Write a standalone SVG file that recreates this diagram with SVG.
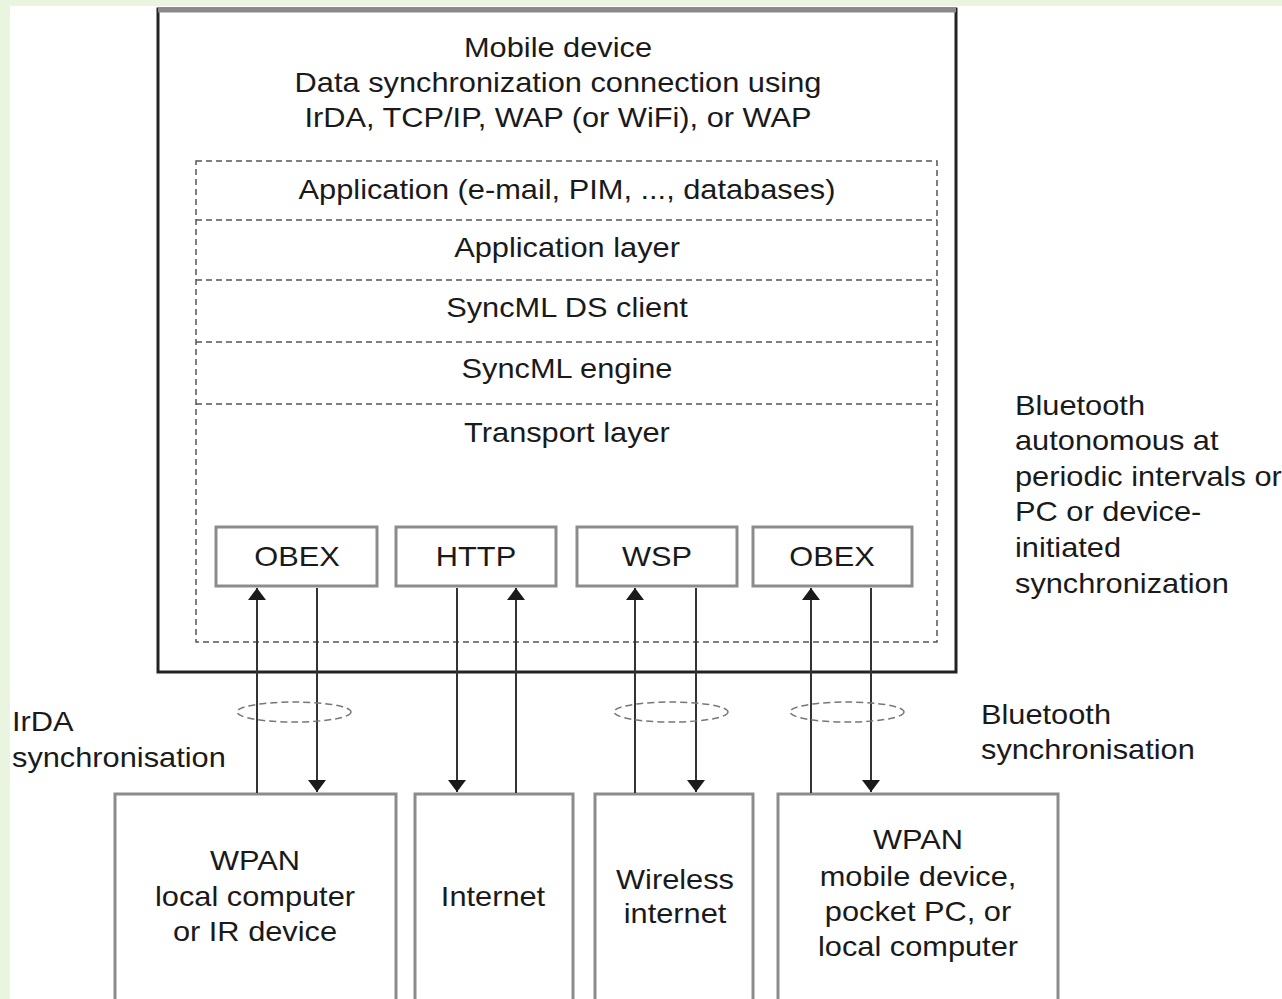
<svg xmlns="http://www.w3.org/2000/svg" width="1282" height="999" viewBox="0 0 1282 999">
  <defs>
    <style>
      text { font-family: "Liberation Sans", Arial, sans-serif; font-size: 27px; fill: #1a1a1a; }
      .mid { text-anchor: middle; }
      .outer { fill: #ffffff; stroke: #222222; stroke-width: 3; }
      .stack { fill: none; stroke: #555555; stroke-width: 1.5; stroke-dasharray: 6 4; }
      .proto { fill: #ffffff; stroke: #8c8c8c; stroke-width: 3; }
      .ext { fill: #ffffff; stroke: #8c8c8c; stroke-width: 3; }
      .link { stroke: #333333; stroke-width: 2; fill: none; }
      .loop { fill: none; stroke: #777777; stroke-width: 1.5; stroke-dasharray: 7 4; }
    </style>
    <marker id="head" viewBox="0 0 12 18" refX="12" refY="9" markerWidth="12" markerHeight="18" markerUnits="userSpaceOnUse" orient="auto">
      <path d="M0,0 L12,9 L0,18 Z" fill="#1a1a1a"/>
    </marker>
  </defs>

  <!-- page -->
  <rect x="0" y="0" width="1282" height="999" fill="#e9f5df"/>
  <rect x="10" y="6" width="1272" height="993" fill="#ffffff"/>

  <!-- mobile device -->
  <g id="mobile-device">
    <rect class="outer" x="158" y="9" width="798" height="663"/>
    <line x1="158" y1="10" x2="956" y2="10" stroke="#8a8a8a" stroke-width="5"/>
    <text class="mid" transform="translate(558 57) scale(1.14 1)">Mobile device</text>
    <text class="mid" transform="translate(558 92) scale(1.14 1)">Data synchronization connection using</text>
    <text class="mid" transform="translate(558 127) scale(1.14 1)">IrDA, TCP/IP, WAP (or WiFi), or WAP</text>
  </g>

  <!-- protocol stack -->
  <g id="stack">
    <rect class="stack" x="196" y="161" width="741" height="481"/>
    <line class="stack" x1="196" y1="220" x2="937" y2="220"/>
    <line class="stack" x1="196" y1="280" x2="937" y2="280"/>
    <line class="stack" x1="196" y1="342" x2="937" y2="342"/>
    <line class="stack" x1="196" y1="404" x2="937" y2="404"/>
    <text class="mid" transform="translate(567 199) scale(1.14 1)">Application (e-mail, PIM, ..., databases)</text>
    <text class="mid" transform="translate(567 257) scale(1.14 1)">Application layer</text>
    <text class="mid" transform="translate(567 317) scale(1.14 1)">SyncML DS client</text>
    <text class="mid" transform="translate(567 378) scale(1.14 1)">SyncML engine</text>
    <text class="mid" transform="translate(567 442) scale(1.14 1)">Transport layer</text>
  </g>

  <g id="obex-1">
    <rect class="proto" x="216" y="527" width="161" height="59"/>
    <text class="mid" transform="translate(297 566) scale(1.14 1)">OBEX</text>
  </g>
  <g id="http">
    <rect class="proto" x="396" y="527" width="160" height="59"/>
    <text class="mid" transform="translate(476 566) scale(1.14 1)">HTTP</text>
  </g>
  <g id="wsp">
    <rect class="proto" x="577" y="527" width="160" height="59"/>
    <text class="mid" transform="translate(657 566) scale(1.14 1)">WSP</text>
  </g>
  <g id="obex-2">
    <rect class="proto" x="753" y="527" width="159" height="59"/>
    <text class="mid" transform="translate(832 566) scale(1.14 1)">OBEX</text>
  </g>

  <!-- external endpoints -->
  <g id="wpan-local">
    <rect class="ext" x="115" y="794" width="281" height="215"/>
    <text class="mid" transform="translate(255 870) scale(1.14 1)">WPAN</text>
    <text class="mid" transform="translate(255 906) scale(1.14 1)">local computer</text>
    <text class="mid" transform="translate(255 941) scale(1.14 1)">or IR device</text>
  </g>
  <g id="internet">
    <rect class="ext" x="415" y="794" width="158" height="215"/>
    <text class="mid" transform="translate(493 906) scale(1.14 1)">Internet</text>
  </g>
  <g id="wireless-internet">
    <rect class="ext" x="595" y="794" width="158" height="215"/>
    <text class="mid" transform="translate(675 889) scale(1.14 1)">Wireless</text>
    <text class="mid" transform="translate(675 923) scale(1.14 1)">internet</text>
  </g>
  <g id="wpan-mobile">
    <rect class="ext" x="778" y="794" width="280" height="215"/>
    <text class="mid" transform="translate(918 849) scale(1.14 1)">WPAN</text>
    <text class="mid" transform="translate(918 886) scale(1.14 1)">mobile device,</text>
    <text class="mid" transform="translate(918 921) scale(1.14 1)">pocket PC, or</text>
    <text class="mid" transform="translate(918 956) scale(1.14 1)">local computer</text>
  </g>

  <!-- side notes -->
  <g id="irda-note">
    <text transform="translate(12 731) scale(1.14 1)">IrDA</text>
    <text transform="translate(12 767) scale(1.14 1)">synchronisation</text>
  </g>
  <g id="bluetooth-note">
    <text transform="translate(981 724) scale(1.14 1)">Bluetooth</text>
    <text transform="translate(981 759) scale(1.14 1)">synchronisation</text>
  </g>
  <g id="bluetooth-modes">
    <text transform="translate(1015 415) scale(1.14 1)">Bluetooth</text>
    <text transform="translate(1015 450) scale(1.14 1)">autonomous at</text>
    <text transform="translate(1015 486) scale(1.14 1)">periodic intervals or</text>
    <text transform="translate(1015 521) scale(1.14 1)">PC or device-</text>
    <text transform="translate(1015 557) scale(1.14 1)">initiated</text>
    <text transform="translate(1015 593) scale(1.14 1)">synchronization</text>
  </g>

  <!-- connectors -->
  <g id="connectors">
    <line class="link" x1="257" y1="793" x2="257" y2="588" marker-end="url(#head)"/>
    <line class="link" x1="317" y1="588" x2="317" y2="792" marker-end="url(#head)"/>
    <line class="link" x1="457" y1="588" x2="457" y2="792" marker-end="url(#head)"/>
    <line class="link" x1="516" y1="793" x2="516" y2="588" marker-end="url(#head)"/>
    <line class="link" x1="635" y1="793" x2="635" y2="588" marker-end="url(#head)"/>
    <line class="link" x1="696" y1="588" x2="696" y2="792" marker-end="url(#head)"/>
    <line class="link" x1="811" y1="793" x2="811" y2="588" marker-end="url(#head)"/>
    <line class="link" x1="871" y1="588" x2="871" y2="792" marker-end="url(#head)"/>
    <ellipse class="loop" cx="294" cy="712" rx="57" ry="10"/>
    <ellipse class="loop" cx="671" cy="712" rx="57" ry="10"/>
    <ellipse class="loop" cx="847" cy="712" rx="57" ry="10"/>
  </g>
</svg>
